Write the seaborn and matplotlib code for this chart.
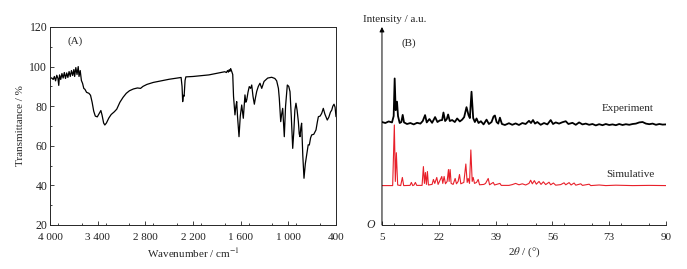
import matplotlib
matplotlib.use("Agg")
import matplotlib.pyplot as plt
from matplotlib.ticker import MultipleLocator, FixedLocator
import seaborn as sns

# Dados: espectro de infravermelho (A)
ir_wavenumber = [4000, 3980, 3960, 3945, 3930, 3915, 3900, 3890, 3880, 3865, 3850, 3835, 3820, 3805,
                 3790, 3775, 3760, 3745, 3730, 3715, 3700, 3690, 3675, 3660, 3645, 3635, 3620, 3605,
                 3590, 3575, 3560, 3540, 3510, 3490, 3470, 3450, 3430, 3405, 3385, 3360, 3345, 3325,
                 3310, 3290, 3260, 3230, 3190, 3160, 3120, 3080, 3040, 3000, 2950, 2900, 2860, 2830,
                 2780, 2700, 2600, 2500, 2400, 2350, 2338, 2330, 2322, 2312, 2300, 2290, 2200, 2100,
                 2000, 1950, 1900, 1850, 1800, 1780, 1765, 1755, 1745, 1735, 1726, 1715, 1700, 1690,
                 1672, 1660, 1650, 1640, 1621, 1605, 1587, 1567, 1546, 1535, 1524, 1508, 1492, 1475,
                 1461, 1445, 1428, 1413, 1398, 1378, 1357, 1335, 1306, 1260, 1210, 1170, 1147, 1125,
                 1114, 1096, 1084, 1071, 1061, 1051, 1035, 1013, 995, 979, 962, 945, 930, 918, 904,
                 890, 874, 863, 853, 843, 833, 818, 803, 786, 769, 750, 736, 720, 706, 680, 652, 635,
                 622, 600, 580, 560, 540, 510, 490, 470, 454, 440, 425, 412, 400]
ir_transmittance = [94.0, 94.3, 93.5, 95.0, 92.8, 95.6, 94.0, 90.5, 95.8, 93.5, 96.5, 94.2, 97.0, 94.0,
                    96.8, 94.5, 97.5, 95.0, 98.0, 95.5, 98.5, 95.0, 99.5, 96.0, 100.0, 95.0, 98.0, 93.0,
                    91.5, 89.0, 88.5, 87.0, 86.5, 85.5, 82.0, 77.5, 75.0, 74.6, 76.0, 77.8, 75.5, 71.5,
                    70.5, 71.5, 74.0, 75.8, 77.2, 78.5, 82.0, 84.5, 86.5, 87.8, 88.7, 89.2, 89.0, 90.0,
                    91.0, 92.0, 92.8, 93.6, 94.2, 94.5, 90.0, 82.3, 85.5, 85.0, 93.0, 94.8, 95.0, 95.4,
                    95.8, 96.2, 96.6, 97.0, 97.4, 97.0, 98.0, 97.2, 98.4, 97.6, 99.0, 97.8, 96.0, 85.0,
                    75.6, 80.0, 82.3, 75.0, 64.6, 75.0, 80.6, 73.9, 85.7, 82.0, 83.1, 87.0, 89.9, 89.0,
                    90.7, 85.0, 81.0, 84.5, 87.5, 90.0, 91.6, 89.0, 92.5, 94.2, 94.6, 94.0, 92.8, 89.0,
                    84.0, 72.2, 76.0, 78.9, 72.0, 64.6, 80.0, 90.7, 90.0, 87.3, 74.0, 58.7, 68.0, 78.0, 81.5,
                    78.0, 72.2, 66.0, 64.6, 69.0, 71.4, 55.0, 43.6, 51.0, 55.4, 60.5, 60.4, 64.0, 65.5, 65.8, 68.0, 72.0,
                    74.7, 75.0, 76.4, 78.9, 76.0, 73.0, 74.5, 77.0, 78.0, 80.0, 81.0, 79.5, 74.7]

# Difratograma experimental (B)
exp_2theta = [5, 6, 7, 8, 8.5, 8.8, 9.1, 9.5, 9.8, 10.3, 10.8, 11.2, 11.6, 12.5, 13.5, 14.5, 15.5, 16.5,
              17.2, 17.9, 18.4, 19.2, 20.0, 20.9, 21.6, 22.3, 23.0, 23.4, 23.9, 24.4, 24.8, 25.3, 26.0,
              26.8, 27.5, 28.3, 29.0, 29.6, 30.3, 30.9, 31.3, 31.8, 32.3, 32.8, 33.3, 33.9, 34.6, 35.4,
              36.3, 37.0, 37.8, 38.4, 38.8, 39.3, 39.8, 40.3, 40.9, 41.8, 43, 44, 45, 46, 47, 48, 49,
              49.6, 50.2, 50.8, 51.5, 52.5, 53.5, 54.5, 55.5, 56.2, 57, 58, 59, 60, 60.8, 62, 63, 64, 65,
              66, 67, 68, 69, 70, 71, 72, 73, 74, 75, 76, 77, 78, 79, 80, 81, 82, 83, 84, 85, 86, 87, 88,
              89, 90]
exp_intensity = [52.0, 51.5, 52.3, 51.8, 55.0, 74.0, 58.0, 62.3, 55.0, 51.5, 52.0, 55.6, 51.8, 51.0, 51.5,
                 50.8, 51.6, 51.2, 52.5, 55.5, 51.8, 53.5, 51.6, 54.5, 52.0, 52.8, 53.0, 56.8, 52.5, 53.5,
                 55.8, 52.5, 53.0, 52.0, 53.8, 52.3, 53.2, 54.5, 59.5, 55.5, 54.0, 67.3, 54.0, 52.0, 53.8,
                 51.5, 52.4, 50.8, 53.2, 51.0, 52.0, 54.8, 55.3, 52.0, 51.2, 54.2, 51.0, 50.5, 51.4, 50.6,
                 51.3, 50.5, 51.5, 51.0, 52.6, 51.5, 53.0, 51.2, 52.0, 50.6, 51.5, 50.8, 53.0, 51.0, 51.8,
                 51.2, 51.9, 52.4, 51.0, 51.6, 50.6, 51.8, 50.8, 51.2, 50.6, 51.0, 50.3, 50.9, 50.4, 51.0,
                 50.5, 50.8, 50.4, 51.0, 50.5, 50.9, 50.6, 51.0, 51.2, 51.8, 52.0, 51.2, 50.9, 51.2, 50.6,
                 51.0, 50.7, 50.8]

# Difratograma simulado (B)
sim_2theta = [5, 8.2, 8.7, 9.0, 9.3, 9.7, 10.6, 11.1, 11.5, 13.4, 13.8, 14.2, 14.6, 15.0, 15.4, 17.0,
              17.4, 17.7, 18.0, 18.3, 18.6, 18.9, 20.0, 20.4, 20.8, 21.4, 21.8, 22.9, 23.2, 23.6, 24.0,
              24.5, 24.9, 25.1, 25.4, 25.7, 26.3, 26.9, 27.3, 27.8, 28.2, 28.6, 29.5, 30.1, 30.5, 30.8,
              31.2, 31.6, 32.0, 32.3, 32.7, 33.3, 33.8, 34.2, 35.5, 36.0, 36.8, 37.2, 38.3, 38.7, 40.3,
              40.7, 43, 44, 45, 46, 47, 48, 49, 49.5, 50, 50.6, 51.2, 52, 52.6, 53.3, 54, 55, 55.5, 56.3,
              57, 58.5, 59.5, 60, 61, 61.6, 62.5, 63, 64.5, 65, 67, 67.5, 70, 72, 75, 80, 85, 90]
sim_intensity = [19.9, 19.9, 50.5, 22.0, 36.5, 20.2, 19.9, 24.0, 19.9, 20.0, 21.5, 19.9, 20.2, 21.5, 20.0,
                 20.0, 29.5, 21.0, 26.5, 20.5, 27.0, 20.2, 20.5, 23.0, 21.0, 24.0, 20.5, 24.5, 21.0, 24.5,
                 20.8, 22.0, 28.0, 22.0, 28.0, 21.0, 20.5, 23.5, 20.8, 22.0, 25.5, 20.8, 21.5, 30.8, 21.5,
                 23.5, 21.0, 37.9, 22.0, 24.0, 21.0, 21.5, 23.0, 20.3, 20.5, 21.0, 23.5, 20.3, 21.5, 20.2,
                 21.0, 20.0, 20.0, 20.4, 21.0, 20.3, 20.8, 20.2, 21.0, 22.6, 20.8, 22.4, 20.6, 22.0, 20.5,
                 21.8, 20.4, 21.6, 20.3, 21.2, 20.1, 20.4, 21.3, 20.3, 21.4, 20.2, 21.2, 20.1, 20.8, 20.0,
                 20.6, 19.9, 20.2, 19.9, 20.1, 19.9, 20.0, 19.9]

ir_ticks = [4000, 3400, 2800, 2200, 1600, 1000, 400]
ir_ticklabels = ["4 000", "3 400", "2 800", "2 200", "1 600", "1 000", "400"]
xrd_ticks = [5, 22, 39, 56, 73, 90]

sns.set_theme(style="ticks")
plt.rcParams['font.family'] = ['Liberation Serif', 'DejaVu Serif']
plt.rcParams['mathtext.fontset'] = 'stix'
plt.rcParams['font.size'] = 8

fig = plt.figure(figsize=(6.87, 2.69), dpi=100)

# Painel (A)
ax1 = fig.add_axes([0.0728, 0.1636, 0.4163, 0.7361])
sns.lineplot(x=ir_wavenumber, y=ir_transmittance, sort=False, estimator=None,
             color='black', lw=0.9, ax=ax1)
ax1.set_xlim(4000, 400)
ax1.set_ylim(20, 120)
ax1.xaxis.set_major_locator(FixedLocator(ir_ticks))
ax1.set_xticklabels(ir_ticklabels)
ax1.xaxis.set_minor_locator(MultipleLocator(300))
ax1.yaxis.set_major_locator(MultipleLocator(20))
ax1.yaxis.set_minor_locator(MultipleLocator(10))
ax1.tick_params(which='both', direction='in', width=0.6, colors='#222222')
ax1.tick_params(axis='y', pad=2, labelsize=8.5)
ax1.tick_params(axis='x', pad=6, labelsize=8)
ax1.tick_params(which='major', length=3)
ax1.tick_params(which='minor', length=1.5)
for s in ax1.spines.values():
    s.set_linewidth(0.7)
ax1.set_xlabel('Wavenumber / cm$^{-1}$', fontsize=8, labelpad=3)
ax1.set_ylabel('Transmittance / %', fontsize=8, labelpad=3)
ax1.text(0.06, 0.93, '(A)', transform=ax1.transAxes, fontsize=8, va='center', ha='left')

# Painel (B)
ax2 = fig.add_axes([0.556, 0.1636, 0.4134, 0.7361])
sns.lineplot(x=exp_2theta, y=exp_intensity, sort=False, estimator=None,
             color='black', lw=1.3, ax=ax2)
sns.lineplot(x=sim_2theta, y=sim_intensity, sort=False, estimator=None,
             color='#e8202a', lw=0.8, ax=ax2)
ax2.set_xlim(5, 90)
ax2.set_ylim(0, 100)
ax2.xaxis.set_major_locator(FixedLocator(xrd_ticks))
ax2.xaxis.set_minor_locator(MultipleLocator(8.5))
ax2.set_yticks([])
for side in ['top', 'right', 'left']:
    ax2.spines[side].set_visible(False)
ax2.spines['bottom'].set_linewidth(0.7)
ax2.tick_params(axis='x', which='both', direction='in', labelsize=8, width=0.6, pad=6)
ax2.tick_params(axis='x', which='major', length=3)
ax2.tick_params(axis='x', which='minor', length=1.5)
ax2.annotate('', xy=(0, 1.0), xytext=(0, 0), xycoords='axes fraction',
             arrowprops=dict(arrowstyle='-|>', color='black', lw=0.7,
                             mutation_scale=7, shrinkA=0, shrinkB=0))
ax2.set_xlabel(r'2$\theta$ / (°)', fontsize=8, labelpad=2)
ax2.text(-0.025, 0.0, 'O', transform=ax2.transAxes, fontsize=8.5, style='italic',
         ha='right', va='center')
ax2.text(0.07, 0.92, '(B)', transform=ax2.transAxes, fontsize=8, va='center', ha='left')
ax2.text(78.6, 58.6, 'Experiment', fontsize=8, ha='center', va='center')
ax2.text(79.4, 25.3, 'Simulative', fontsize=8, ha='center', va='center')
fig.text(0.528, 0.926, 'Intensity / a.u.', fontsize=8, ha='left', va='center')

fig.savefig('out.png', dpi=100)
